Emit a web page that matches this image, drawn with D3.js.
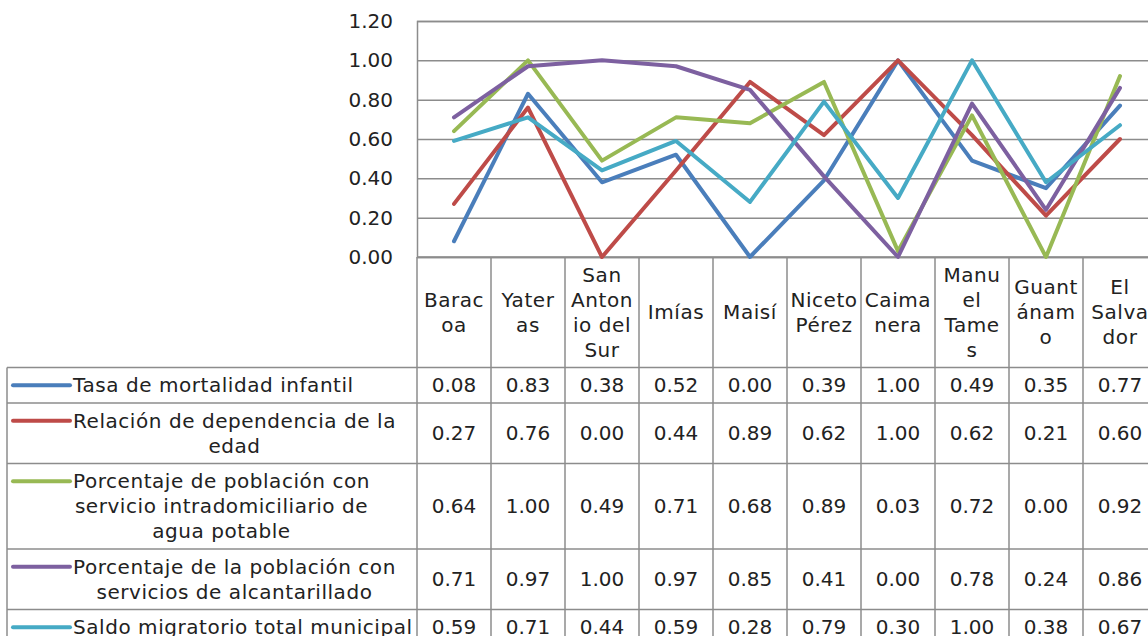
<!DOCTYPE html>
<html>
<head>
<meta charset="utf-8">
<script src="https://cdn.jsdelivr.net/npm/d3@7"></script>
<style>
  html, body { margin: 0; padding: 0; background: #fff; overflow: hidden; }
  svg { display: block; font-family: "DejaVu Sans", Verdana, sans-serif; }
</style>
</head>
<body>
<svg id="chart" width="1148" height="636"></svg>
<script>
// Municipios (one column per municipality), with the wrapped header lines
const categories = ["Baracoa", "Yateras", "San Antonio del Sur", "Imías", "Maisí",
  "Niceto Pérez", "Caimanera", "Manuel Tames", "Guantánamo", "El Salvador"];
const categoryLines = [["Barac", "oa"], ["Yater", "as"], ["San", "Anton", "io del", "Sur"],
  ["Imías"], ["Maisí"], ["Niceto", "Pérez"], ["Caima", "nera"], ["Manu", "el", "Tame", "s"],
  ["Guant", "ánam", "o"], ["El", "Salva", "dor"]];

// Indicator names (wrapped as shown in the table legend)
const seriesNames = [
  ["Tasa de mortalidad infantil"],
  ["Relación de dependencia de la", "edad"],
  ["Porcentaje de población con", "servicio intradomiciliario de", "agua potable"],
  ["Porcentaje de la población con", "servicios de alcantarillado"],
  ["Saldo migratorio total municipal"]
];

// Normalised indicator values per municipality
const mortalidadInfantil   = [0.08, 0.83, 0.38, 0.52, 0.00, 0.39, 1.00, 0.49, 0.35, 0.77];
const dependenciaEdad      = [0.27, 0.76, 0.00, 0.44, 0.89, 0.62, 1.00, 0.62, 0.21, 0.60];
const aguaPotable          = [0.64, 1.00, 0.49, 0.71, 0.68, 0.89, 0.03, 0.72, 0.00, 0.92];
const alcantarillado       = [0.71, 0.97, 1.00, 0.97, 0.85, 0.41, 0.00, 0.78, 0.24, 0.86];
const saldoMigratorio      = [0.59, 0.71, 0.44, 0.59, 0.28, 0.79, 0.30, 1.00, 0.38, 0.67];

const seriesValues = [mortalidadInfantil, dependenciaEdad, aguaPotable, alcantarillado, saldoMigratorio];
const seriesColors = ["#4a7ebb", "#be4b48", "#98b954", "#7d60a0", "#46aac5"];

const yTicks = [0, 0.2, 0.4, 0.6, 0.8, 1.0, 1.2];

// ---- layout ----
const svg = d3.select("#chart");
const plotLeft = 417, plotTop = 21, plotBottom = 257, colWidth = 74;
const tableLeft = 7;
const lineH = 25, rowPad = 10.5;
const gridColor = "#8c8c8c";
const textColor = "#222";
const fontSize = 20;
const letterSp = 0.55;

const x = d3.scaleBand().domain(categories).range([plotLeft, plotLeft + colWidth * categories.length]);
const y = d3.scaleLinear().domain([0, 1.2]).range([plotBottom, plotTop]);

// Gridlines and y axis labels
const yAxis = d3.axisLeft(y).tickValues(yTicks).tickFormat(d3.format(".2f"))
  .tickSize(-(x.range()[1] - plotLeft)).tickPadding(24);
const gy = svg.append("g").attr("transform", `translate(${plotLeft},0)`).call(yAxis);
gy.select(".domain").attr("stroke", gridColor).attr("stroke-width", 1.5);
gy.selectAll(".tick line").attr("stroke", gridColor).attr("stroke-width", 1.5);
gy.selectAll(".tick text").attr("fill", textColor).attr("font-size", fontSize)
  .attr("font-family", "DejaVu Sans, Verdana, sans-serif");

// Table rows: header then one row per series
const headerH = rowPad + lineH * d3.max(categoryLines, d => d.length);
const rowHeights = seriesNames.map(n => rowPad + lineH * n.length);
const rowTops = [];
let acc = plotBottom + headerH;
rowHeights.forEach(h => { rowTops.push(acc); acc += h; });
const tableBottom = acc;
const tableRight = x.range()[1];

const table = svg.append("g");

// horizontal rules
table.append("line").attr("x1", plotLeft).attr("x2", tableRight)
  .attr("y1", plotBottom).attr("y2", plotBottom);
rowTops.forEach(t => {
  table.append("line").attr("x1", tableLeft).attr("x2", tableRight).attr("y1", t).attr("y2", t);
});
table.append("line").attr("x1", tableLeft).attr("x2", tableRight)
  .attr("y1", tableBottom).attr("y2", tableBottom);
// vertical rules
table.append("line").attr("x1", tableLeft).attr("x2", tableLeft)
  .attr("y1", rowTops[0]).attr("y2", tableBottom);
categories.forEach(c => {
  table.append("line").attr("x1", x(c)).attr("x2", x(c)).attr("y1", plotBottom).attr("y2", tableBottom);
});
table.append("line").attr("x1", tableRight).attr("x2", tableRight).attr("y1", plotTop).attr("y2", tableBottom);
table.selectAll("line").attr("stroke", gridColor).attr("stroke-width", 1.5);

// header labels
const headerMid = plotBottom + headerH / 2;
categories.forEach((c, i) => {
  const lines = categoryLines[i];
  const t = svg.append("text").attr("text-anchor", "middle").attr("font-size", fontSize)
    .attr("fill", textColor).attr("letter-spacing", letterSp);
  lines.forEach((ln, k) => {
    t.append("tspan").attr("x", x(c) + x.bandwidth() / 2)
      .attr("y", headerMid + (k - (lines.length - 1) / 2) * lineH + 7).text(ln);
  });
});

// value cells
const fmt = d3.format(".2f");
seriesValues.forEach((vals, s) => {
  const mid = rowTops[s] + rowHeights[s] / 2;
  svg.append("g").selectAll("text").data(vals).join("text")
    .attr("x", (d, i) => x(categories[i]) + x.bandwidth() / 2)
    .attr("y", mid + 7)
    .attr("text-anchor", "middle").attr("font-size", fontSize).attr("fill", textColor)
    .text(d => fmt(d));
});

// legend keys + series names
const keyX1 = 13, keyX2 = 70, labelX = 73;
seriesNames.forEach((lines, s) => {
  const mid = rowTops[s] + rowHeights[s] / 2;
  const firstBase = mid + (0 - (lines.length - 1) / 2) * lineH + 7;
  svg.append("line").attr("x1", keyX1).attr("x2", keyX2)
    .attr("y1", firstBase - 7).attr("y2", firstBase - 7)
    .attr("stroke", seriesColors[s]).attr("stroke-width", 4).attr("stroke-linecap", "round");
  const t = svg.append("text").attr("font-size", fontSize).attr("fill", textColor)
    .attr("letter-spacing", letterSp);
  const spans = lines.map((ln, k) => t.append("tspan")
    .attr("y", mid + (k - (lines.length - 1) / 2) * lineH + 7).text(ln));
  const widths = spans.map(sp => sp.node().getComputedTextLength());
  const blockW = d3.max(widths);
  spans.forEach(sp => sp.attr("x", labelX + blockW / 2).attr("text-anchor", "middle"));
});

// series lines
const line = d3.line()
  .x((d, i) => x(categories[i]) + x.bandwidth() / 2)
  .y(d => y(d));
seriesValues.forEach((vals, s) => {
  svg.append("path").datum(vals).attr("d", line)
    .attr("fill", "none").attr("stroke", seriesColors[s]).attr("stroke-width", 4)
    .attr("stroke-linejoin", "round").attr("stroke-linecap", "round");
});
</script>
</body>
</html>
